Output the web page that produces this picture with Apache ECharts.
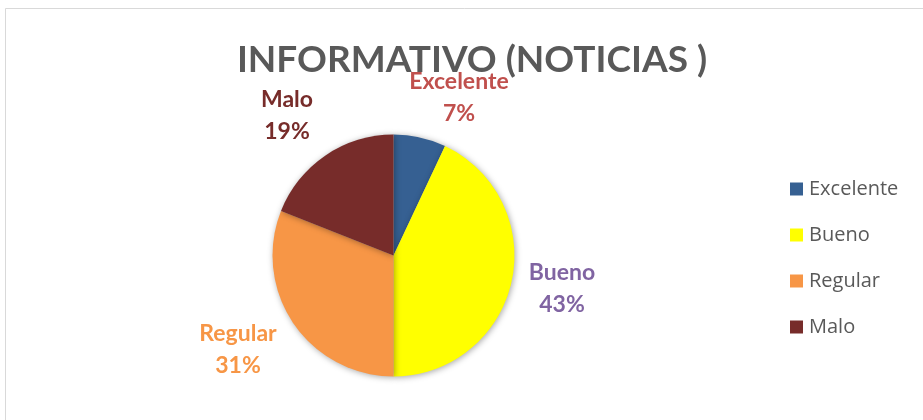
<!DOCTYPE html>
<html>
<head>
<meta charset="utf-8">
<script src="https://cdn.jsdelivr.net/npm/echarts@6/dist/echarts.min.js"></script>
<style>
    html, body { margin: 0; padding: 0; background: #fff; }
    #chart { width: 923px; height: 420px; }
</style>
</head>
<body>
<div id="chart"></div>
<script>
var categories = ['Excelente', 'Bueno', 'Regular', 'Malo'];
var values = [7, 43, 31, 19];
var sliceColors = ['#366092', '#FFFF00', '#F79646', '#772C2A'];
var labelColors = ['#C0504D', '#8064A2', '#F79646', '#772C2A'];

// posiciones de las etiquetas (centro del texto)
var labelPos = [[459, 98], [562, 289], [238, 350], [287, 116]];

var chart = echarts.init(document.getElementById('chart'));

var pieData = [];
for (var i = 0; i < categories.length; i++) {
    pieData.push({
        name: categories[i],
        value: values[i],
        itemStyle: {color: sliceColors[i]},
        label: {color: labelColors[i]}
    });
}

var option = {
    backgroundColor: '#fff',
    animation: false,
    title: {
        text: 'INFORMATIVO (NOTICIAS )',
        left: 467,
        top: 37,
        textAlign: 'center',
        textStyle: {
            fontFamily: 'Lato',
            fontWeight: 'bold',
            fontSize: 37,
            color: '#595959'
        }
    },
    graphic: [{
        type: 'rect',
        shape: {x: 5.5, y: 8.5, width: 940, height: 440},
        style: {fill: 'none', stroke: '#d9d9d9', lineWidth: 1},
        silent: true
    }],
    legend: {
        orient: 'vertical',
        left: 785,
        top: 174,
        itemWidth: 13,
        itemHeight: 13,
        itemGap: 26,
        icon: 'rect',
        data: categories,
        textStyle: {
            fontFamily: 'Open Sans',
            fontSize: 20,
            color: '#595959',
            padding: [0, 0, 0, 1]
        }
    },
    series: [{
        type: 'pie',
        center: [393.5, 255.5],
        radius: [0, 121],
        startAngle: 90,
        clockwise: true,
        data: pieData,
        itemStyle: {
            shadowBlur: 6,
            shadowColor: 'rgba(0,0,0,0.35)',
            shadowOffsetX: 1,
            shadowOffsetY: 1
        },
        label: {
            show: true,
            position: 'outside',
            formatter: '{b}\n{d}%',
            fontFamily: 'Lato',
            fontWeight: 'bold',
            fontSize: 23,
            lineHeight: 32,
            align: 'center'
        },
        labelLine: {show: false},
        labelLayout: function (params) {
            var p = labelPos[params.dataIndex];
            return {
                x: p[0],
                y: p[1],
                align: 'center',
                verticalAlign: 'middle'
            };
        }
    }]
};

chart.setOption(option);
</script>
</body>
</html>
